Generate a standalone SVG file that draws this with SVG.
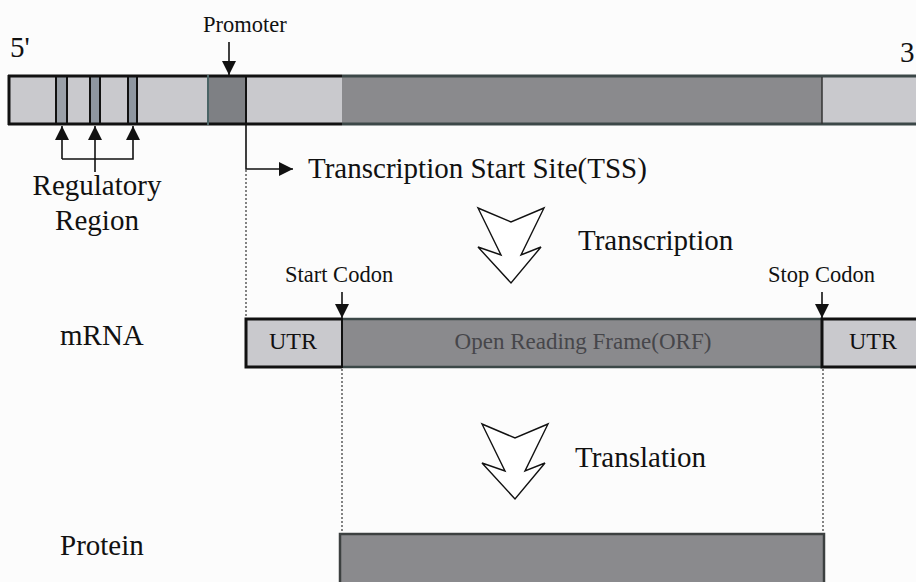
<svg xmlns="http://www.w3.org/2000/svg" width="916" height="582" viewBox="0 0 916 582">
  <defs>
    <marker id="headL" viewBox="0 0 10 10" refX="10" refY="5" markerWidth="14" markerHeight="14" markerUnits="userSpaceOnUse" orient="auto">
      <path d="M0,0 L10,5 L0,10 z" fill="#111"/>
    </marker>
  </defs>
  <style>
    text { font-family: "Liberation Serif", "Times New Roman", serif; fill: #111; }
    .big { font-size: 29px; }
    .mid { font-size: 22.5px; }
    .light { fill: #c9c9cd; }
    .dark { fill: #8a8a8d; }
    .edge { stroke: #111; stroke-width: 3; fill: none; }
    .thin { stroke: #111; stroke-width: 2; fill: none; }
    .dot { stroke: #333; stroke-width: 1.2; stroke-dasharray: 2 2; fill: none; }
    .chev { fill: #fff; stroke: #111; stroke-width: 1.4; stroke-linejoin: miter; }
    .ptr { stroke: #111; stroke-width: 1.6; fill: none; }
  </style>
  <rect width="916" height="582" fill="#fcfcfc"/>

  <!-- strand ends -->
  <g id="end5"><text class="big" x="10" y="57">5'</text></g>
  <g id="end3"><text class="big" x="900" y="62">3</text></g>

  <!-- genomic DNA strip -->
  <g id="dna">
    <rect class="light" x="8" y="75" width="908" height="50"/>
    <rect class="dark" x="342" y="75" width="480" height="50"/>
    <rect x="208" y="75" width="38" height="50" fill="#7e8084"/>
    <rect x="56" y="75" width="11" height="50" fill="#9aa0a8"/>
    <rect x="90" y="75" width="10" height="50" fill="#8e96a0"/>
    <rect x="128" y="75" width="9" height="50" fill="#8e96a0"/>
    <line class="edge" x1="8" y1="76" x2="342" y2="76"/>
    <line class="edge" x1="8" y1="124" x2="342" y2="124"/>
    <line x1="342" y1="76" x2="916" y2="76" stroke="#3c4848" stroke-width="3"/>
    <line x1="342" y1="124" x2="916" y2="124" stroke="#3c4848" stroke-width="3"/>
    <line class="edge" x1="9" y1="75" x2="9" y2="125"/>
    <line class="thin" x1="56" y1="75" x2="56" y2="125"/>
    <line class="thin" x1="67" y1="75" x2="67" y2="125"/>
    <line class="thin" x1="90" y1="75" x2="90" y2="125"/>
    <line class="thin" x1="100" y1="75" x2="100" y2="125"/>
    <line class="thin" x1="128" y1="75" x2="128" y2="125"/>
    <line class="thin" x1="137" y1="75" x2="137" y2="125"/>
    <line x1="208" y1="75" x2="208" y2="125" stroke="#4a6466" stroke-width="2"/>
    <line class="thin" x1="246" y1="75" x2="246" y2="125"/>
    <line x1="822" y1="77" x2="822" y2="124" stroke="#333" stroke-width="1.5"/>
  </g>

  <!-- labels on the strip -->
  <g id="promoter"><text class="mid" x="203" y="32">Promoter</text></g>
  <g id="regulatory">
    <text class="big" x="97" y="195" text-anchor="middle">Regulatory</text>
    <text class="big" x="97" y="230" text-anchor="middle">Region</text>
  </g>
  <g id="tss"><text class="big" x="308" y="178">Transcription Start Site(TSS)</text></g>

  <!-- process steps -->
  <g id="transcription">
    <polygon class="chev" points="478,208 511,222 544,208 521,255 541,247 511,283 478,247 501,255"/>
    <text class="big" x="578" y="250">Transcription</text>
  </g>
  <g id="translation">
    <polygon class="chev" points="482,424 515,438 548,424 525,471 545,463 515,499 482,463 505,471"/>
    <text class="big" x="575" y="467">Translation</text>
  </g>

  <!-- mRNA -->
  <g id="mrna">
    <text class="big" x="60" y="345">mRNA</text>
    <rect class="light" x="245" y="318" width="671" height="50"/>
    <rect class="dark" x="342" y="318" width="480" height="50"/>
    <line x1="342" y1="319" x2="822" y2="319" stroke="#3c4848" stroke-width="2.5"/>
    <line x1="342" y1="367" x2="822" y2="367" stroke="#3c4848" stroke-width="2.5"/>
    <polyline class="edge" points="342,319 246,319 246,367 342,367"/>
    <polyline class="edge" points="916,319 822,319 822,367 916,367"/>
    <line class="thin" x1="342" y1="318" x2="342" y2="368"/>
    <text class="mid" x="293" y="349" text-anchor="middle" style="font-size:24px">UTR</text>
    <text class="mid" x="583" y="349" text-anchor="middle" style="font-size:23px; fill:#46464a">Open Reading Frame(ORF)</text>
    <text class="mid" x="873" y="349" text-anchor="middle" style="font-size:24px">UTR</text>
  </g>
  <g id="startCodon"><text class="mid" x="285" y="282">Start Codon</text></g>
  <g id="stopCodon"><text class="mid" x="768" y="282">Stop Codon</text></g>

  <!-- protein -->
  <g id="protein">
    <text class="big" x="60" y="555">Protein</text>
    <rect class="dark" x="340" y="534" width="484" height="52" stroke="#3c4040" stroke-width="2.5"/>
  </g>

  <!-- connectors -->
  <g id="connectors">
    <line class="ptr" x1="229" y1="42" x2="229" y2="75" marker-end="url(#headL)"/>
    <line class="ptr" x1="95" y1="172" x2="95" y2="126" marker-end="url(#headL)"/>
    <polyline class="ptr" points="62,159 133,159 133,126" marker-end="url(#headL)"/>
    <line class="ptr" x1="62" y1="159" x2="62" y2="126" marker-end="url(#headL)"/>
    <polyline class="ptr" points="246,125 246,169 293,169" marker-end="url(#headL)"/>
    <line class="dot" x1="246" y1="170" x2="246" y2="318"/>
    <line class="ptr" x1="342" y1="292" x2="342" y2="318" marker-end="url(#headL)"/>
    <line class="ptr" x1="822" y1="292" x2="822" y2="318" marker-end="url(#headL)"/>
    <line class="dot" x1="342" y1="369" x2="342" y2="533"/>
    <line class="dot" x1="823" y1="369" x2="823" y2="533"/>
  </g>
</svg>
